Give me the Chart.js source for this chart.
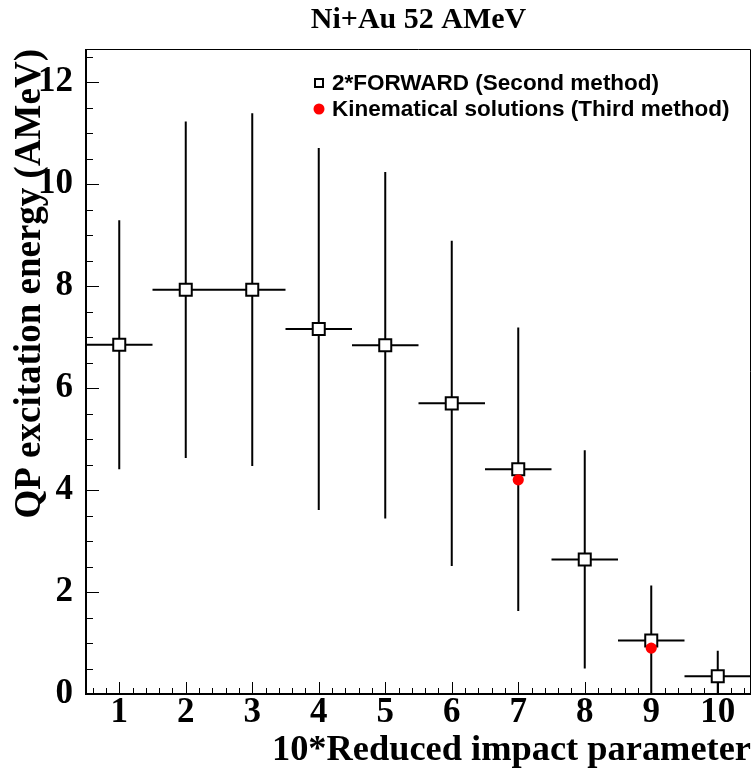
<!DOCTYPE html>
<html>
<head>
<meta charset="utf-8">
<title>Ni+Au 52 AMeV</title>
<script src="https://cdn.jsdelivr.net/npm/chart.js@4.4.1/dist/chart.umd.min.js"></script>
<style>
  html, body { margin: 0; padding: 0; background: #fff; }
  canvas { display: block; }
</style>
</head>
<body>
<canvas id="chart" width="752" height="774"></canvas>
<script>
// bins of 10*b_red
const impact = [1, 2, 3, 4, 5, 6, 7, 8, 9, 10];
const binHalfWidth = [0.5, 0.5, 0.5, 0.5, 0.5, 0.5, 0.5, 0.5, 0.5, 0.5];

// 2*FORWARD (second method)
const forwardE = [6.85, 7.93, 7.93, 7.16, 6.84, 5.70, 4.41, 2.64, 1.05, 0.35];
const forwardErr = [2.44, 3.30, 3.46, 3.55, 3.40, 3.19, 2.78, 2.14, 1.08, 0.50];

// kinematical solutions (third method)
const kinImpact = [7, 9];
const kinE = [4.20, 0.90];

const xTicks = [1, 2, 3, 4, 5, 6, 7, 8, 9, 10];
const yTicks = [0, 2, 4, 6, 8, 10, 12];

const serif = 'Liberation Serif';
const sans = 'Liberation Sans';

// error bars under the markers
const errorBars = {
  id: 'errorBars',
  beforeDatasetsDraw(chart) {
    const {ctx, chartArea: a, scales: {x, y}} = chart;
    ctx.save();
    ctx.beginPath();
    ctx.rect(a.left, a.top, a.right - a.left, a.bottom - a.top);
    ctx.clip();
    ctx.strokeStyle = '#000';
    ctx.lineWidth = 2;
    impact.forEach((b, i) => {
      const px = x.getPixelForValue(b);
      const py = y.getPixelForValue(forwardE[i]);
      ctx.beginPath();
      ctx.moveTo(px, y.getPixelForValue(forwardE[i] - forwardErr[i]));
      ctx.lineTo(px, y.getPixelForValue(forwardE[i] + forwardErr[i]));
      ctx.moveTo(x.getPixelForValue(b - binHalfWidth[i]), py);
      ctx.lineTo(x.getPixelForValue(b + binHalfWidth[i]), py);
      ctx.stroke();
    });
    ctx.restore();
  }
};

// ROOT style frame with ticks pointing inward
const frame = {
  id: 'frame',
  afterDraw(chart) {
    const {ctx, chartArea: a, scales: {x, y}} = chart;
    ctx.save();
    ctx.strokeStyle = '#000';
    ctx.lineWidth = 1;
    ctx.beginPath();
    ctx.moveTo(a.left, a.top + 0.5);
    ctx.lineTo(a.right - 0.5, a.top + 0.5);
    ctx.lineTo(a.right - 0.5, a.bottom);
    ctx.stroke();

    ctx.beginPath();
    for (let v = 0.6; v < x.max; v += 0.2) {
      const px = Math.round(x.getPixelForValue(v)) + 0.5;
      const major = Math.abs(v - Math.round(v)) < 0.01;
      ctx.moveTo(px, a.bottom);
      ctx.lineTo(px, a.bottom - (major ? 12 : 6));
    }
    for (let v = 0.5; v < y.max; v += 0.5) {
      const py = Math.round(y.getPixelForValue(v)) + 0.5;
      const major = v % 2 === 0;
      ctx.moveTo(a.left, py);
      ctx.lineTo(a.left + (major ? 13 : 7), py);
    }
    ctx.stroke();

    ctx.lineWidth = 2;
    ctx.beginPath();
    ctx.moveTo(a.left, a.top);
    ctx.lineTo(a.left, a.bottom);
    ctx.lineTo(a.right, a.bottom);
    ctx.stroke();
    ctx.restore();
  }
};

// legend box inside the frame
const legendBox = {
  id: 'legendBox',
  afterDraw(chart) {
    const {ctx, chartArea: a} = chart;
    const ds = chart.data.datasets;
    const mx = a.left + 233;
    const rows = [a.top + 34, a.top + 60];
    ctx.save();
    ctx.font = 'bold 22.5px "' + sans + '"';
    ctx.textBaseline = 'middle';
    // open square
    ctx.lineWidth = 2;
    ctx.strokeStyle = '#000';
    ctx.fillStyle = '#fff';
    ctx.fillRect(mx - 4, rows[0] - 4, 8, 8);
    ctx.strokeRect(mx - 4, rows[0] - 4, 8, 8);
    // red dot
    ctx.fillStyle = '#ff0000';
    ctx.beginPath();
    ctx.arc(mx, rows[1], 5.5, 0, Math.PI * 2);
    ctx.fill();
    ctx.fillStyle = '#000';
    ctx.fillText(ds[0].label, mx + 13, rows[0] + 1);
    ctx.fillText(ds[1].label, mx + 13, rows[1] + 1);
    ctx.restore();
  }
};

new Chart(document.getElementById('chart'), {
  type: 'scatter',
  data: {
    datasets: [
      {
        label: '2*FORWARD (Second method)',
        data: impact.map((b, i) => ({x: b, y: forwardE[i]})),
        pointStyle: 'rect',
        pointRadius: 8.5,
        pointHoverRadius: 8.5,
        backgroundColor: '#fff',
        borderColor: '#000',
        borderWidth: 2,
        order: 1,
      },
      {
        label: 'Kinematical solutions (Third method)',
        data: kinImpact.map((b, i) => ({x: b, y: kinE[i]})),
        pointStyle: 'circle',
        pointRadius: 5.6,
        pointHoverRadius: 5.6,
        backgroundColor: '#ff0000',
        borderColor: '#ff0000',
        borderWidth: 0,
        order: 0,
      },
    ],
  },
  options: {
    responsive: false,
    animation: false,
    events: [],
    layout: {autoPadding: false, padding: {left: 0, right: 1, top: 0, bottom: 0}},
    plugins: {
      legend: {display: false},
      tooltip: {enabled: false},
      title: {
        display: true,
        text: 'Ni+Au 52 AMeV',
        fullSize: false,
        color: '#000',
        font: {family: serif, weight: 'bold', size: 30, lineHeight: 1},
        padding: {top: 5, bottom: 14},
      },
    },
    scales: {
      x: {
        type: 'linear',
        min: 0.5,
        max: 10.5,
        afterBuildTicks: s => { s.ticks = xTicks.map(v => ({value: v})); },
        afterFit: s => { s.height = 80; s.paddingLeft = 0; s.paddingRight = 0; },
        grid: {display: false},
        border: {display: false},
        ticks: {
          color: '#000',
          padding: 0,
          maxRotation: 0,
          autoSkip: false,
          font: {family: serif, weight: 'bold', size: 35, lineHeight: 0.65},
        },
        title: {
          display: true,
          text: '10*Reduced impact parameter',
          align: 'end',
          color: '#000',
          font: {family: serif, weight: 'bold', size: 36.4, lineHeight: 1},
          padding: {top: 0, bottom: 5},
        },
      },
      y: {
        type: 'linear',
        min: 0,
        max: 12.65,
        afterBuildTicks: s => { s.ticks = yTicks.map(v => ({value: v})); },
        afterFit: s => { s.width = 86; s.paddingTop = 0; s.paddingBottom = 0; },
        grid: {display: false},
        border: {display: false},
        ticks: {
          color: '#000',
          padding: 5,
          font: {family: serif, weight: 'bold', size: 35, lineHeight: 1},
        },
        title: {
          display: true,
          text: 'QP excitation energy (AMeV)',
          align: 'end',
          color: '#000',
          font: {family: serif, weight: 'bold', size: 37, lineHeight: 1},
          padding: {top: 12, bottom: 0},
        },
      },
    },
  },
  plugins: [errorBars, frame, legendBox],
});
</script>
</body>
</html>
